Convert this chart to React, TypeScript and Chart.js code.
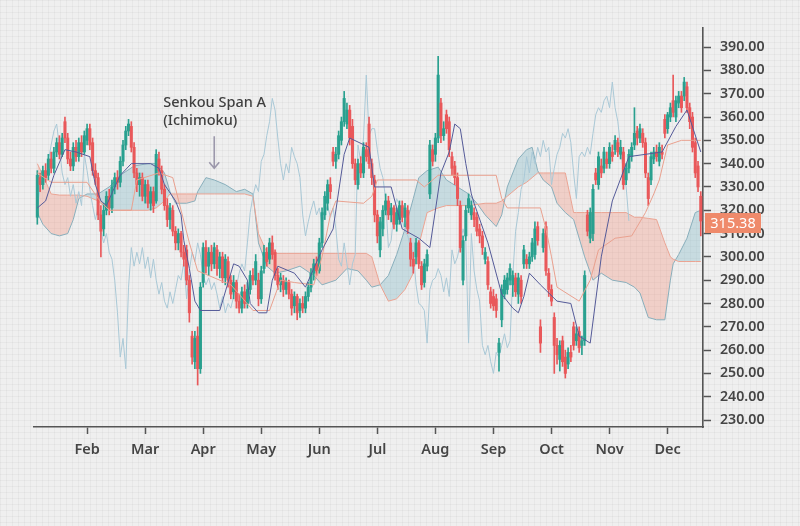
import { useEffect, useRef } from 'react';
import { Chart, registerables } from 'chart.js';

Chart.register(...registerables);

// ---------- data ----------
const monthLabels = ['Feb', 'Mar', 'Apr', 'May', 'Jun', 'Jul', 'Aug', 'Sep', 'Oct', 'Nov', 'Dec'];
const monthStarts = [18, 39, 60, 81, 102, 123, 144, 165, 186, 207, 228];
const yTicks = [230, 240, 250, 260, 270, 280, 290, 300, 310, 320, 330, 340, 350, 360, 370, 380, 390];

const opens = [317,334,331,337,335,342,338,345,349,344, 358,351,342,339,347,343,349,345,350,355, 349,337,334,318,312,320,326,321,330,334, 332,341,348,354,356,347,336,331,334,326, 331,323,328,324,342,337,329,322,316,320, 311,306,310,302,303,290,266,255,266,252, 289,304,296,302,297,303,295,300,291,298, 290,285,289,281,278,285,280,286,292,290, 290,282,295,302,299,306,302,292,288,290, 286,289,284,279,283,277,280,278,283,287, 293,297,294,306,318,323,331,345,341,344, 350,358,357,363,356,340,331,340,336,346, 357,340,333,318,303,312,320,324,318,321, 314,316,322,317,320,306,299,300,306,296, 289,296,327,346,344,351,366,352,361,358, 343,339,334,322,290,309,321,318,319,317, 312,309,299,298,285,283,282,259,273,284, 286,290,288,291,284,290,297,299,297,300, 301,313,270,304,313,293,286,274,262,256, 264,257,254,259,270,264,268,262,264,318, 308,310,336,331,339,338,342,340,345,346, 349,344,345,333,338,343,348,354,351,353, 349,334,333,342,345,341,345,359,355,360, 367,360,366,369,369,373,364,360,349,339, 326];
const highs = [337,336,339,340,344,345,347,351,352,353, 360,353,345,349,350,351,352,354,357,357, 351,340,336,322,323,328,329,333,336,337, 343,350,356,359,358,349,338,336,336,333, 333,330,330,346,345,339,331,325,323,322, 313,312,311,305,305,292,268,268,270,289, 306,307,304,305,306,305,302,302,301,300, 292,292,290,284,287,288,289,294,295,301, 293,296,305,304,308,309,303,295,293,292, 291,290,286,285,284,282,283,285,289,295, 299,300,308,321,328,333,334,347,347,354, 360,371,366,365,359,342,342,343,349,349, 360,342,335,320,317,322,327,326,323,322, 321,324,324,323,322,308,302,308,307,298, 299,303,350,348,353,386,368,358,363,360, 345,341,336,324,309,322,327,324,321,319, 314,311,304,300,287,286,284,265,288,292, 293,297,294,293,293,292,305,301,302,308, 315,315,273,312,315,295,288,276,265,264, 266,260,261,262,272,270,270,266,294,320, 321,331,338,345,342,347,345,349,348,352, 351,350,347,340,346,349,364,356,357,355, 351,336,345,347,348,349,348,361,362,366, 378,369,371,371,377,375,366,362,351,341, 328];
const lows = [314,328,329,332,333,336,336,343,342,343, 349,340,337,337,341,341,343,344,348,346, 335,331,316,300,309,318,318,319,327,329, 330,339,346,352,345,334,328,326,324,323, 321,320,319,323,335,327,320,313,312,309, 303,303,300,296,288,272,254,252,245,250, 287,293,292,294,295,292,291,289,288,287, 282,282,278,276,276,278,278,284,288,288, 279,280,293,296,297,299,290,286,285,283, 284,282,275,276,273,274,276,276,281,285, 290,292,293,304,316,320,325,339,338,342, 348,356,355,348,338,331,329,334,334,341, 338,331,315,306,300,309,318,316,315,312, 311,314,315,313,310,296,293,297,295,286, 287,294,325,339,341,349,349,350,353,343, 335,331,322,302,288,307,319,316,313,309, 306,301,297,286,278,277,274,251,270,282, 284,288,283,283,280,280,295,295,295,298, 299,305,259,302,292,283,279,250,254,251, 253,248,252,255,260,262,259,258,262,309, 306,307,331,329,334,336,338,338,341,344, 343,342,329,331,336,341,346,348,349,347, 334,322,331,340,341,339,342,351,353,358, 360,358,364,362,367,362,355,345,334,328, 309];
const closes = [335,331,337,334,342,338,345,349,344,351, 351,342,339,347,343,349,345,352,355,348, 337,334,318,311,320,326,321,330,334,332, 341,348,354,357,347,336,331,334,326,331, 323,328,322,344,337,329,322,316,321,311, 306,310,302,299,290,276,257,265,252,287, 304,296,302,297,304,295,300,291,299,290, 284,289,281,278,285,280,286,292,290,298, 282,294,302,298,306,301,292,288,291,286, 289,284,278,283,276,280,278,283,287,293, 297,294,306,319,326,331,328,341,344,352, 358,368,363,351,340,333,340,336,347,343, 340,334,318,309,315,320,324,318,321,314, 319,322,317,321,312,299,296,306,297,288, 297,301,348,341,351,378,352,355,355,346, 338,334,325,304,307,320,325,322,316,311, 309,304,302,288,280,279,277,263,286,290, 291,295,292,285,291,283,303,297,300,306, 312,307,263,310,294,286,281,262,258,262, 255,250,259,257,262,267,261,264,292,311, 319,329,333,343,336,345,340,347,343,350, 345,347,331,338,344,347,353,351,355,349, 336,325,343,345,343,347,344,353,361,364, 362,367,369,364,375,364,358,347,336,330, 315.38];

// Ichimoku lines: [bar index, value]
const tenkan = [[0,321],[3,324],[6,335],[10,346],[14,345],[19,343],[21,331],[23,324],[25,322],[28,330],[30,335],[34,340],[41,340],[44,338],[46,331],[50,324],[52,318],[53,307],[55,295],[57,281],[59,277],[66,277],[69,289],[71,297],[73,296],[76,290],[77,280],[80,276],[83,276],[85,290],[87,296],[93,293],[97,287],[103,303],[107,312],[111,344],[113,351],[120,347],[122,330],[128,330],[132,312],[138,308],[142,304],[146,336],[149,345],[151,357],[153,355],[155,340],[157,327],[158,323],[163,306],[168,284],[172,278],[174,276],[176,283],[178,293],[182,288],[188,281],[193,280],[196,266],[200,263],[204,300],[208,324],[214,343],[226,345],[231,356],[235,363],[240,345]];
const kijun = [[0,336],[5,332],[18,332],[22,325],[26,320],[34,320],[36,333],[44,336],[49,334],[55,306],[58,294],[62,292],[70,288],[73,284],[78,277],[84,277],[88,290],[93,289],[100,288],[103,300],[106,318],[108,324],[118,323],[121,326],[123,333],[137,333],[140,330],[145,335],[166,335],[168,325],[170,321],[182,321],[184,312],[186,300],[188,287],[196,281],[200,290],[203,303],[209,308],[215,309],[220,319],[223,327],[225,333],[228,348],[233,350],[240,350]];
const chikouShift = 26; // Chikou Span = closing price plotted 26 bars back

const cloudX = [0,2,5,8,11,13,15,18,22,26, 30,35,40,43,46,48,50,54,57,58, 61,64,68,72,75,78,80,83,86,90, 95,100,103,108,112,116,119,121,124,127, 130,133,136,138,141,145,148,152,156,159, 162,166,168,170,174,177,179,181,183,186, 188,191,194,195,198,201,204,208,213,216, 218,221,224,227,229,230,232,235,238,240];
const spanA = [319,314,310,309,310,316,325,327,327,330, 335,339,340,340,336,328,323,323,324,328, 334,333,331,328,329,327,306,296,293,294, 296,292,288,290,295,294,290,287,288,292, 301,312,325,334,337,338.5,333,330,327,323, 318,313,318,330,342,346,347,337,333,330, 323,319,316,312,300,290,293,290,289,287, 284.5,274,273,273,290,297,301,308,319,320];
const spanB = [340,335,327,326.5,326.5,326.5,326.5,326,324,320, 320,320,320,321,324,327,327,327,327,327, 327,327,327,327,327,326,310,302,301.5,301.5, 301.5,301.5,301.5,301.5,301.5,301.5,301.5,300,288,281, 282,286,293,305,319,321,322,322,322,322.5, 323,323,324,326,330,332,334,336,336,336, 336,336,319,319,319,319,319,319,319,317, 317,316.5,316,306,300,299,298,298,298,298];

const annotationAt = [64, 338];

// ---------- styles ----------
const GREEN = '#29a08f';
const RED = '#e9585a';
const AXIS = '#555555';
const TEXT = '#454545';
const FONT = "'Noto Sans', 'Open Sans', sans-serif";

const overlayPlugin = {
  id: 'overlay',
  afterDraw(chart: any) {
    const { ctx, scales, chartArea } = chart;
    const xs = scales.x;
    const ys = scales.y;
    // annotation
    const ax = xs.getPixelForValue(annotationAt[0]);
    const ay = ys.getPixelForValue(annotationAt[1]);
    ctx.save();
    ctx.strokeStyle = '#9c98ab';
    ctx.lineWidth = 1.6;
    ctx.beginPath();
    ctx.moveTo(ax, ay - 32);
    ctx.lineTo(ax, ay);
    ctx.moveTo(ax - 5, ay - 6);
    ctx.lineTo(ax, ay);
    ctx.lineTo(ax + 5, ay - 6);
    ctx.stroke();
    ctx.fillStyle = '#3f3f3f';
    ctx.font = `500 14.5px ${FONT}`;
    ctx.textAlign = 'left';
    ctx.textBaseline = 'alphabetic';
    ctx.fillText('Senkou Span A', ax - 51, ay - 61);
    ctx.fillText('(Ichimoku)', ax - 51, ay - 43);
    // last price label
    const last = closes[closes.length - 1];
    const py = ys.getPixelForValue(last) + 2;
    ctx.fillStyle = '#ef8a6b';
    ctx.fillRect(chartArea.right + 2, py - 10, 56, 20);
    ctx.fillStyle = '#ffffff';
    ctx.font = `14.5px ${FONT}`;
    ctx.textAlign = 'center';
    ctx.textBaseline = 'middle';
    ctx.fillText(last.toFixed(2), chartArea.right + 30, py + 1);
    ctx.restore();
  },
};

export default function App() {
  const ref = useRef<HTMLCanvasElement>(null);

  useEffect(() => {
    const candleColors = closes.map((c, i) => (c >= opens[i] ? GREEN : RED));
    const wicks = closes.map((_, i) => ({ x: i, y: [lows[i], highs[i]] }));
    const bodies = closes.map((c, i) => ({ x: i, y: [opens[i], c] }));
    const chikou = closes.slice(chikouShift).map((c, j) => ({ x: j, y: c }));
    const pts = (arr: number[][]) => arr.map(([x, y]) => ({ x, y }));
    const a = cloudX.map((x, k) => ({ x, y: spanA[k] }));
    const b = cloudX.map((x, k) => ({ x, y: spanB[k] }));

    const lineBase = { type: 'line', pointRadius: 0, borderWidth: 1, tension: 0 };

    const chart = new Chart(ref.current as HTMLCanvasElement, {
      type: 'line',
      data: {
        datasets: [
          {
            ...lineBase,
            label: 'Senkou Span A',
            data: a,
            borderColor: '#88aebb',
            fill: { target: '+1', above: 'rgba(140, 190, 202, 0.40)', below: 'rgba(242, 150, 130, 0.36)' },
            order: 21,
          },
          {
            ...lineBase,
            label: 'Senkou Span B',
            data: b,
            borderColor: '#eba392',
            fill: false,
            order: 20,
          },
          {
            ...lineBase,
            label: 'Chikou',
            data: chikou,
            borderColor: '#a9c8d6',
            fill: false,
            order: 15,
          },
          {
            type: 'bar',
            label: 'wick',
            data: wicks,
            backgroundColor: candleColors,
            barThickness: 1,
            grouped: false,
            order: 10,
          },
          {
            type: 'bar',
            label: 'body',
            data: bodies,
            backgroundColor: candleColors,
            barThickness: 2.4,
            minBarLength: 1,
            grouped: false,
            order: 9,
          },
          {
            ...lineBase,
            label: 'Kijun',
            data: pts(kijun),
            borderColor: '#e9a08e',
            fill: false,
            order: 5,
          },
          {
            ...lineBase,
            label: 'Tenkan',
            data: pts(tenkan),
            borderColor: '#545a98',
            fill: false,
            order: 4,
          },
        ] as any,
      },
      options: {
        animation: false,
        responsive: true,
        maintainAspectRatio: false,
        layout: { padding: { left: 34, top: 28, right: 0, bottom: 0 } },
        plugins: { legend: { display: false }, tooltip: { enabled: false } },
        scales: {
          x: {
            type: 'linear',
            min: -1.2,
            max: 240.8,
            offset: false,
            afterBuildTicks: (s: any) => {
              s.ticks = monthStarts.map((v) => ({ value: v }));
            },
            afterFit: (s: any) => {
              s.height = 99;
            },
            grid: { drawOnChartArea: false, drawTicks: true, tickLength: 7, tickColor: AXIS, tickWidth: 1.5, offset: false },
            border: { display: true, color: AXIS, width: 1.6 },
            ticks: {
              autoSkip: false,
              maxRotation: 0,
              padding: 7,
              color: TEXT,
              font: { family: FONT, size: 14.5, weight: '600' },
              callback: (_v: any, i: number) => monthLabels[i],
            },
          },
          y: {
            type: 'linear',
            position: 'right',
            min: 227,
            max: 398.2,
            afterBuildTicks: (s: any) => {
              s.ticks = yTicks.map((v) => ({ value: v }));
            },
            afterFit: (s: any) => {
              s.width = 97;
            },
            grid: { drawOnChartArea: false, drawTicks: true, tickLength: 8, tickColor: AXIS, tickWidth: 1.5 },
            border: { display: true, color: AXIS, width: 1.6 },
            ticks: {
              padding: 9,
              color: TEXT,
              font: { family: FONT, size: 14.2, weight: '600' },
              callback: (v: any) => Number(v).toFixed(2),
            },
          },
        },
      } as any,
      plugins: [overlayPlugin],
    });
    return () => chart.destroy();
  }, []);

  return (
    <div
      style={{
        position: 'fixed',
        left: 0,
        top: 0,
        width: 800,
        height: 526,
        backgroundColor: '#efefef',
        backgroundImage:
          'linear-gradient(rgba(0,0,0,0.035) 1px, transparent 1px), linear-gradient(90deg, rgba(0,0,0,0.035) 1px, transparent 1px)',
        backgroundSize: '6px 6px',
      }}
    >
      <canvas ref={ref} />
    </div>
  );
}
